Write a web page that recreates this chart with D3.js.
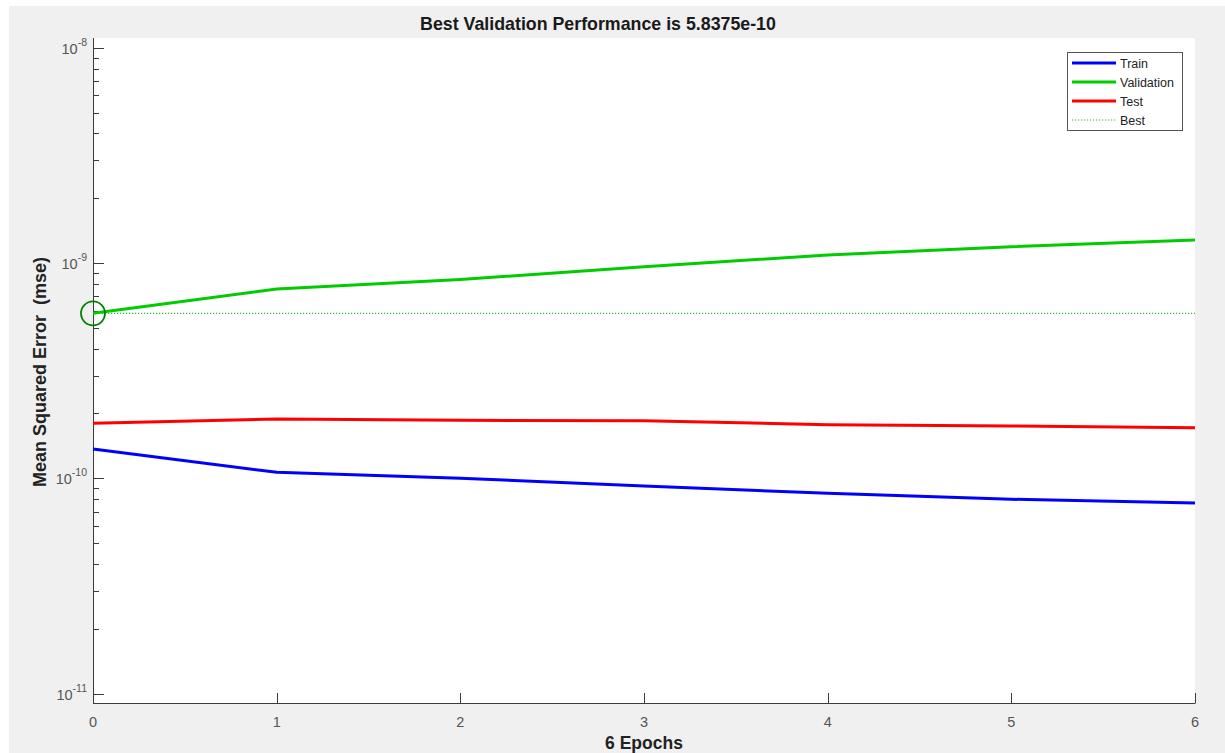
<!DOCTYPE html>
<html><head><meta charset="utf-8">
<script src="https://cdn.jsdelivr.net/npm/d3@7"></script>
<style>body{margin:0;background:#fff;}svg{display:block;font-family:"Liberation Sans",Arial,sans-serif;}</style>
</head><body>
<svg id="c" width="1225" height="753"></svg>
<script>
const epochs = [0, 1, 2, 3, 4, 5, 6];
const trainMSE = [1.368e-10, 1.066e-10, 1.0e-10, 9.21e-11, 8.52e-11, 7.99e-11, 7.68e-11];
const validationMSE = [5.8375e-10, 7.57e-10, 8.38e-10, 9.61e-10, 1.089e-9, 1.19e-9, 1.279e-9];
const testMSE = [1.80e-10, 1.886e-10, 1.86e-10, 1.851e-10, 1.774e-10, 1.75e-10, 1.718e-10];
const bestEpoch = 0;
const bestValue = 5.8375e-10;
const yDecades = [-11, -10, -9, -8];
const xTicks = [0, 1, 2, 3, 4, 5, 6];
const legendLabels = ["Train", "Validation", "Test", "Best"];
const titleText = "Best Validation Performance is 5.8375e-10";
const xLabelText = "6 Epochs";
const yLabelText = "Mean Squared Error  (mse)";

const svg = d3.select("#c");
const L = 93, R = 1195, T = 38, B = 703;
svg.append("rect").attr("x", 9).attr("y", 6).attr("width", 1216).attr("height", 747).attr("fill", "#f0f0f0");
svg.append("rect").attr("x", L).attr("y", T).attr("width", R - L).attr("height", B - T).attr("fill", "#fff");

const x = d3.scaleLinear().domain([0, 6]).range([L, R]);
const y = d3.scaleLog().domain([Math.pow(10, -11.0437), Math.pow(10, -7.955)]).range([B, T]);

const axisCol = "#3c3c3c", labCol = "#555";
const g = svg.append("g");
yDecades.forEach(e => {
  for (let m = 1; m <= 9; m++) {
    const v = m * Math.pow(10, e);
    if (v < y.domain()[0] || v > y.domain()[1]) continue;
    g.append("line").attr("x1", L).attr("x2", L + (m === 1 ? 11 : 6))
      .attr("y1", Math.round(y(v)) + 0.5).attr("y2", Math.round(y(v)) + 0.5)
      .attr("stroke", axisCol).attr("stroke-width", 1);
  }
  const t = g.append("text").attr("x", 87).attr("y", y(Math.pow(10, e)) + 6)
    .attr("text-anchor", "end").attr("fill", labCol).attr("font-size", 14.5);
  t.append("tspan").text("10");
  t.append("tspan").attr("dy", -8).attr("font-size", 10.5).text(String(e));
});
xTicks.forEach(v => {
  g.append("line").attr("x1", Math.round(x(v)) + 0.5).attr("x2", Math.round(x(v)) + 0.5)
    .attr("y1", B).attr("y2", B - 10).attr("stroke", axisCol).attr("stroke-width", 1);
  g.append("text").attr("x", x(v)).attr("y", 727).attr("text-anchor", "middle")
    .attr("fill", labCol).attr("font-size", 14.5).text(v);
});
g.append("line").attr("x1", L + 0.5).attr("x2", L + 0.5).attr("y1", T).attr("y2", B + 0.5).attr("stroke", axisCol);
g.append("line").attr("x1", L).attr("x2", R + 0.5).attr("y1", B + 0.5).attr("y2", B + 0.5).attr("stroke", axisCol);

svg.append("line").attr("x1", L).attr("x2", R).attr("y1", y(bestValue)).attr("y2", y(bestValue))
  .attr("stroke", "#2db82d").attr("stroke-width", 1.2).attr("stroke-dasharray", "1.2,1.8");

const line = d3.line().x((d, i) => x(epochs[i])).y(d => y(d));
[[trainMSE, "#0000ff"], [validationMSE, "#00cc00"], [testMSE, "#ff0000"]].forEach(([data, col]) => {
  svg.append("path").datum(data).attr("d", line).attr("fill", "none")
    .attr("stroke", col).attr("stroke-width", 3);
});
svg.append("circle").attr("cx", x(bestEpoch)).attr("cy", y(bestValue)).attr("r", 12)
  .attr("fill", "none").attr("stroke", "#008000").attr("stroke-width", 1.8);

svg.append("text").attr("x", 598).attr("y", 30).attr("text-anchor", "middle")
  .attr("font-weight", "bold").attr("font-size", 17.8).attr("fill", "#1a1a1a").text(titleText);
svg.append("text").attr("x", 644).attr("y", 749).attr("text-anchor", "middle")
  .attr("font-weight", "bold").attr("font-size", 17.5).attr("fill", "#222").text(xLabelText);
svg.append("text").attr("transform", "translate(46,372) rotate(-90)").attr("text-anchor", "middle")
  .attr("font-weight", "bold").attr("font-size", 18).attr("fill", "#222").attr("xml:space", "preserve").text(yLabelText);

const lg = svg.append("g");
lg.append("rect").attr("x", 1067.5).attr("y", 52.5).attr("width", 115).attr("height", 78)
  .attr("fill", "#fff").attr("stroke", "#555").attr("stroke-width", 1);
const legCols = ["#0000ff", "#00cc00", "#ff0000", "#2db82d"];
const legY = [63, 82, 101, 120];
legendLabels.forEach((lab, i) => {
  const ln = lg.append("line").attr("x1", 1072).attr("x2", 1116).attr("y1", legY[i]).attr("y2", legY[i])
    .attr("stroke", legCols[i]).attr("stroke-width", i < 3 ? 3 : 1.2);
  if (i === 3) ln.attr("stroke-dasharray", "1.2,1.8");
  lg.append("text").attr("x", 1120).attr("y", legY[i] + 4.5).attr("font-size", 12.5)
    .attr("fill", "#222").text(lab);
});
</script>
</body></html>
